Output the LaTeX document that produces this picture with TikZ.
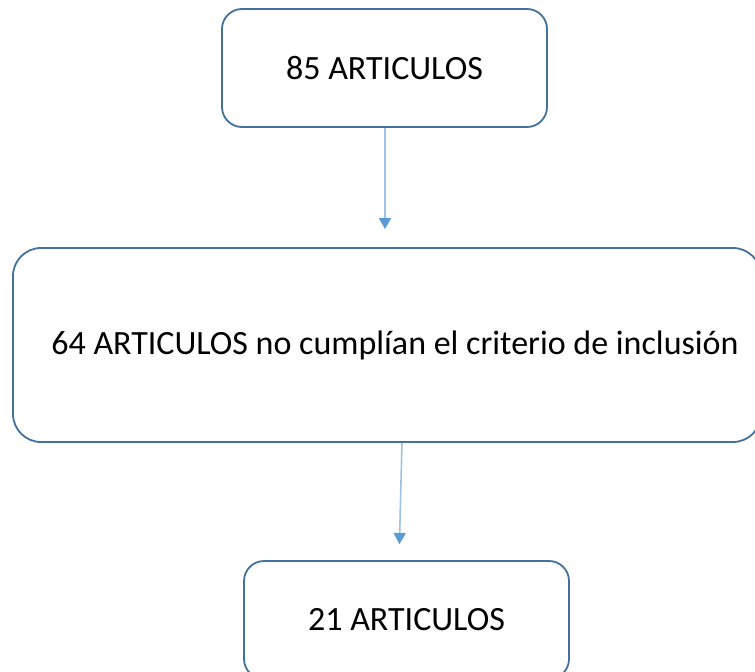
\documentclass[tikz,border=0pt]{standalone}
\usepackage{fontspec}
\setmainfont{Carlito}
\usetikzlibrary{arrows.meta}
\definecolor{boxline}{RGB}{65,113,156}
\definecolor{arrline}{RGB}{157,195,230}
\definecolor{arrhead}{RGB}{91,155,213}
\tikzset{
  card/.style={draw=boxline, line width=1.8pt, fill=white, rounded corners=#1,
    inner sep=0pt, font=\fontsize{34}{40}\selectfont, text=black},
  link/.style={draw=arrline, line width=1.6pt,
    -{Triangle[width=12pt,length=11pt,color=arrhead]}}
}
\begin{document}
\begin{tikzpicture}[x=1pt,y=-1pt]
\useasboundingbox (0,0) rectangle (755,672);
\clip (0,0) rectangle (755,672);
\node[card=20pt, minimum width=325pt, minimum height=118pt] (top) at (384.5,68) {85 ARTICULOS};
\node[card=28pt, minimum width=748pt, minimum height=194pt] (mid) at (387,345) {\hspace*{16pt}64 ARTICULOS no cumplían el criterio de inclusión};
\node[card=20pt, minimum width=325pt, minimum height=118pt] (bot) at (406.5,620) {21 ARTICULOS};
\draw[link, shorten >=18pt] ([xshift=0.5pt]top.south) -- ([xshift=-2pt]mid.north);
\draw[link, shorten >=16pt] ([xshift=15pt]mid.south) -- ([xshift=-7.5pt]bot.north);
\end{tikzpicture}
\end{document}
